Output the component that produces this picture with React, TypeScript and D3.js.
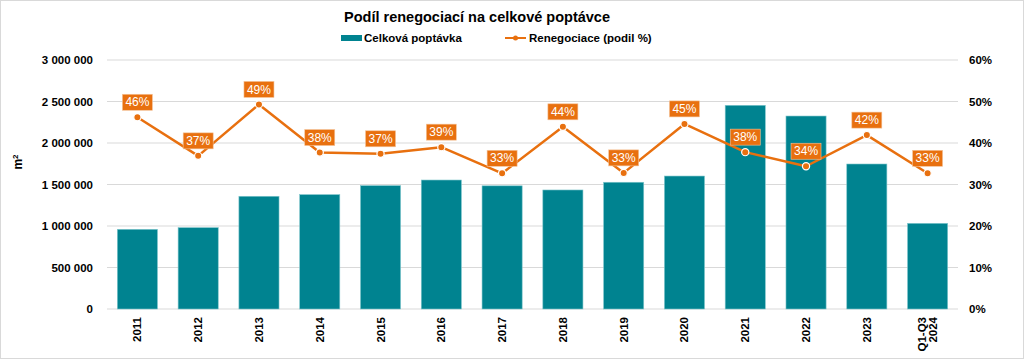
import * as d3 from 'd3';
import React from 'react';

const categories = ['2011', '2012', '2013', '2014', '2015', '2016', '2017', '2018', '2019', '2020', '2021', '2022', '2023', 'Q1-Q3\n2024'];
const demand = [960000, 980000, 1358000, 1378000, 1486000, 1554000, 1484000, 1434000, 1527000, 1602000, 2454000, 2325000, 1747000, 1032000];
const renegShare = [46.2, 36.9, 49.3, 37.7, 37.4, 39.0, 32.7, 43.9, 32.8, 44.6, 37.8, 34.4, 41.9, 32.7];
const leftTicks = [0, 500000, 1000000, 1500000, 2000000, 2500000, 3000000];
const rightTicks = [0, 10, 20, 30, 40, 50, 60];

const W = 1024;
const H = 359;
const margin = { top: 60, right: 66, bottom: 50, left: 107 };
const TEAL = '#008390';
const ORANGE = '#E8700F';
const GRID = '#d9d9d9';
const FONT = '"Liberation Sans", Arial, sans-serif';

const fmtSpace = (v: number) => d3.format(',')(v).replace(/,/g, ' ');

export default function App() {
  const innerW = W - margin.left - margin.right;
  const innerH = H - margin.top - margin.bottom;

  const x = d3.scaleBand().domain(categories).range([0, innerW]).paddingInner(0.34).paddingOuter(0.17);
  const yL = d3.scaleLinear().domain([0, 3000000]).range([innerH, 0]);
  const yR = d3.scaleLinear().domain([0, 60]).range([innerH, 0]);

  const cx = (c: string) => (x(c) || 0) + x.bandwidth() / 2;
  const line = d3
    .line<number>()
    .x((_, i) => cx(categories[i]))
    .y((d) => yR(d));

  return (
    <svg width={W} height={H} style={{ position: 'absolute', left: 0, top: 0, fontFamily: FONT }}>
      <rect x={0.5} y={0.5} width={W - 1} height={H - 1} fill="#fff" stroke={GRID} />
      <text x={477} y={22} textAnchor="middle" fontSize={14.5} fontWeight="bold" fill="#000">
        Podíl renegociací na celkové poptávce
      </text>

      {/* legend */}
      <g fontSize={11.5} fontWeight="bold" fill="#000">
        <rect x={341} y={35} width={21} height={6} fill={TEAL} />
        <text x={364} y={42}>Celková poptávka</text>
        <line x1={505} x2={526} y1={38} y2={38} stroke={ORANGE} strokeWidth={2} />
        <circle cx={515.5} cy={38} r={2.5} fill={ORANGE} />
        <text x={529} y={42}>Renegociace (podil %)</text>
      </g>

      <g transform={`translate(${margin.left},${margin.top})`}>
        {leftTicks.map((t) => (
          <line key={t} x1={0} x2={innerW} y1={yL(t)} y2={yL(t)} stroke={GRID} strokeWidth={1} />
        ))}
        {leftTicks.map((t) => (
          <text key={'l' + t} x={-14} y={yL(t)} dy="0.35em" textAnchor="end" fontSize={11.5} fontWeight="bold">
            {fmtSpace(t)}
          </text>
        ))}
        {rightTicks.map((t) => (
          <text key={'r' + t} x={innerW + 11} y={yR(t)} dy="0.35em" textAnchor="start" fontSize={11.5} fontWeight="bold">
            {t}%
          </text>
        ))}

        {demand.map((v, i) => (
          <rect
            key={categories[i]}
            x={x(categories[i])}
            y={yL(v)}
            width={x.bandwidth()}
            height={innerH - yL(v)}
            fill={TEAL}
            stroke="#7fc6cc"
            strokeWidth={0.6}
          />
        ))}

        <path d={line(renegShare) || ''} fill="none" stroke={ORANGE} strokeWidth={2.5} strokeLinejoin="round" />
        {renegShare.map((v, i) => (
          <circle key={'p' + i} cx={cx(categories[i])} cy={yR(v)} r={3.6} fill={ORANGE} stroke="#fff" strokeWidth={1.2} />
        ))}
        {renegShare.map((v, i) => {
          const px = cx(categories[i]);
          const py = yR(v);
          return (
            <g key={'lab' + i}>
              <rect x={px - 15} y={py - 23} width={30} height={16} fill={ORANGE} stroke="#f4c39a" strokeWidth={0.6} />
              <text x={px} y={py - 15} dy="0.35em" textAnchor="middle" fontSize={12} fill="#fff">
                {Math.round(v)}%
              </text>
            </g>
          );
        })}

        {categories.map((c) => {
          const lines = c.split('\n');
          const px = cx(c);
          return (
            <text
              key={'x' + c}
              transform={`translate(${px},${innerH + 8}) rotate(-90)`}
              textAnchor="end"
              fontSize={11.5}
              fontWeight="bold"
            >
              {lines.map((l, j) => (
                <tspan key={j} x={0} y={(j - (lines.length - 1) / 2) * 11} dy="0.35em">
                  {l}
                </tspan>
              ))}
            </text>
          );
        })}
      </g>

      <text transform="translate(22,162) rotate(-90)" textAnchor="middle" fontSize={12} fontWeight="bold">
        m<tspan dy="-4" fontSize={8}>2</tspan>
      </text>
    </svg>
  );
}
